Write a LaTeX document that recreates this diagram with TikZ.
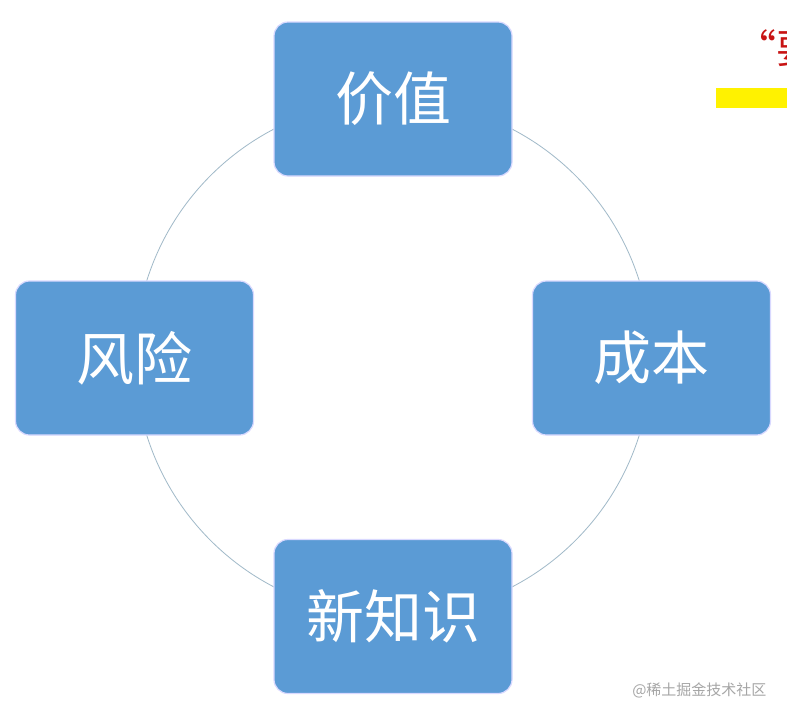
\documentclass[tikz,border=0pt]{standalone}
\usepackage{fontspec}
\newfontfamily\cjk{Noto Sans CJK SC}
\begin{document}
\begin{tikzpicture}[x=1pt,y=-1pt,
  box/.style={draw=white!70!blue!50, line width=1.2pt, fill={rgb,255:red,91;green,155;blue,213}, rounded corners=14pt, minimum width=238pt, minimum height=154pt, text=white, font=\cjk\fontsize{58}{62}\selectfont}]
\path[use as bounding box] (0,0) rectangle (787,721);
\clip (0,0) rectangle (787,721);
\fill[white] (0,0) rectangle (787,721);
\draw[color={rgb,255:red,160;green,185;blue,200}, line width=0.8pt] (393,358) circle[radius=258];
\node[box] (v) at (393,99) {价值};
\node[box] (c) at (651.5,358) {成本};
\node[box] (r) at (134.5,358) {风险};
\node[box] (k) at (393,616.5) {新知识};
\fill[yellow] (716,88) rectangle (787,108);
\node[anchor=west, text={rgb,255:red,200;green,20;blue,20}, font=\cjk\fontsize{40}{44}\selectfont] (q) at (733,48) {“要};
\node[anchor=east, text=gray!70, font=\cjk\fontsize{15}{17}\selectfont] (w) at (770,690) {@稀土掘金技术社区};
\end{tikzpicture}
\end{document}
